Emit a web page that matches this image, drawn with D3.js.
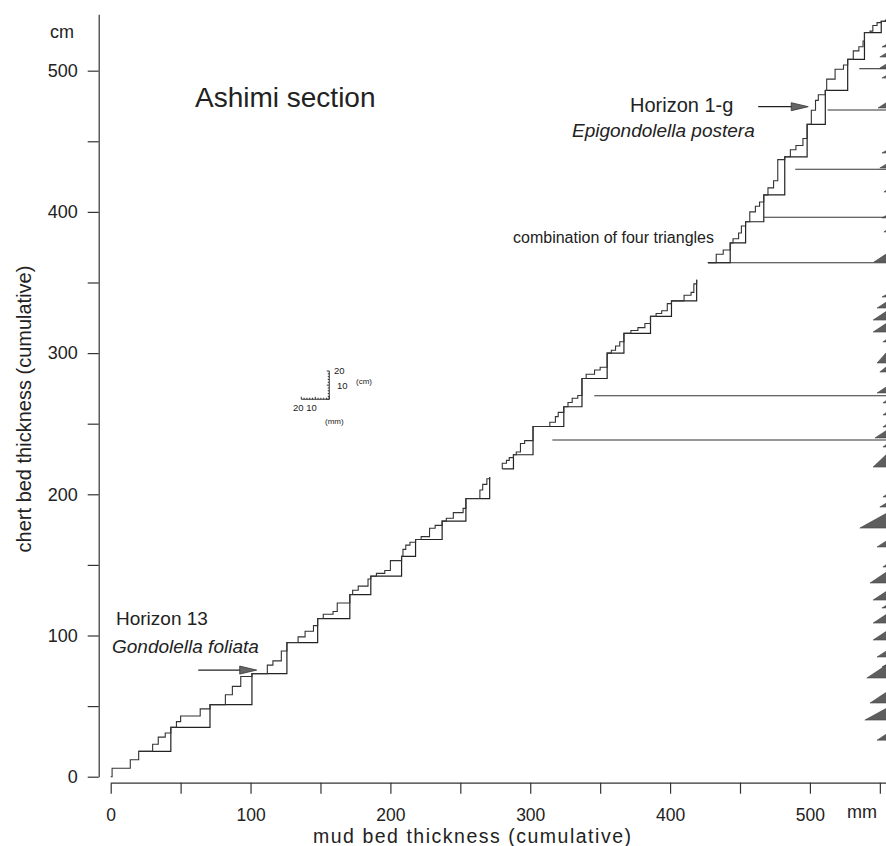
<!DOCTYPE html>
<html>
<head>
<meta charset="utf-8">
<script src="https://cdnjs.cloudflare.com/ajax/libs/d3/7.8.5/d3.min.js"></script>
<style>
body { margin: 0; background: #fff; }
text { font-family: "Liberation Sans", Arial, sans-serif; fill: #222; }
</style>
</head>
<body>
<script>
// cumulative mud (mm) / chert (cm), one list per section piece
var mud1 = [0, 1, 14, 20, 30, 34, 39, 43, 47, 50, 64, 71, 82, 87, 93, 101, 112, 116, 122, 126,
  134, 139, 145, 148, 152, 159, 162, 171, 173, 177, 184, 186, 190, 196, 200, 208, 209, 211, 214, 218,
  222, 228, 232, 237, 240, 245, 252, 254, 264, 266, 269, 271];
var chert1 = [0, 6, 12, 18, 23, 28, 31, 35, 39, 43, 48, 51, 58, 64, 71, 73, 79, 82, 89, 95,
  99, 103, 107, 112, 115, 117, 123, 129, 132, 135, 140, 142, 144, 146, 153, 156, 161, 164, 166, 168,
  170, 176, 178, 181, 183, 187, 190, 197, 203, 207, 211, 212];

var mud2 = [280, 280, 283, 285, 288, 290, 293, 296, 302, 314, 318, 320, 324, 327, 330, 334, 337, 340, 346, 350,
  355, 358, 361, 364, 367, 372, 377, 382, 386, 390, 394, 398, 401, 410, 415, 417, 419];
var chert2 = [218, 222, 224, 226, 228, 230, 236, 238, 248, 251, 255, 258, 262, 265, 268, 270, 282, 285, 288, 290,
  300, 302, 305, 308, 314, 316, 318, 321, 326, 328, 330, 335, 337, 341, 343, 349, 352];

var mud3 = [427, 431, 433, 438, 443, 445, 449, 451, 454, 457, 461, 464, 467, 470, 474, 477, 482, 486, 490, 495,
  498, 501, 504, 506, 511, 512, 518, 524, 527, 531, 535, 538, 539, 543, 545, 548, 551, 554];
var chert3 = [364, 364, 370, 373, 378, 381, 385, 390, 393, 400, 404, 407, 412, 417, 422, 437, 439, 444, 447, 452,
  462, 472, 479, 483, 486, 494, 501, 504, 508, 514, 517, 521, 527, 528, 532, 534, 535, 536];

// first bed of the four-bed combination in each piece
var coarseStart = [3, 0, 0];

// horizontal tie lines to the triangles
var tieMud = [315.8, 345.8, 427.3, 467.1, 489.5, 512.6, 535.3];
var tieChert = [238.4, 269.8, 364, 396.2, 430.2, 472.2, 501.4];

// triangles along the right edge: base (cm), left tip (mm), top at the edge (cm)
var triBase = [516.8, 509.7, 501.9, 494.8, 473.6, 441.7, 431.1, 414.1, 395.7, 385.8,
  364.5, 339.7, 331.9, 323.4, 314.9, 307.9, 293, 286.6, 271.8, 264.7,
  256.2, 247.7, 239.9, 233.5, 219.3, 198.1, 191, 176.1, 162.7, 148.5,
  137.2, 125.1, 119.5, 108.8, 96.8, 84.8, 77.7, 69.9, 56.4, 52.2, 40.1, 25.9];
var triTip = [551.5, 550, 550, 551.5, 548.7, 551.5, 550, 552.9, 551.5, 552.9,
  545.8, 551.5, 548, 545.2, 545.2, 552.2, 548, 550, 548, 552.2,
  552.2, 552.2, 546.5, 552.2, 545.2, 552.2, 550, 535.7, 548, 552.2,
  543, 545.2, 551.5, 545.2, 545.2, 548, 551.5, 540.7, 550, 543, 539.3, 548];
var triTop = [518.8, 512.7, 504.9, 496.8, 477.6, 443.7, 434, 415.6, 397.7, 387.3,
  370.5, 341.7, 336.4, 329.8, 321.3, 309.9, 300.8, 290.6, 276.3, 266.7,
  258.2, 249.7, 245.4, 235.5, 228.5, 200.1, 194, 186.7, 167.2, 150.5,
  145.1, 131.5, 121.5, 115.2, 103.2, 89.3, 79.7, 79.3, 59.4, 60.1, 48.6, 30.4];

var xTicks = [0, 50, 100, 150, 200, 250, 300, 350, 400, 450, 500, 550];
var yTicks = [0, 50, 100, 150, 200, 250, 300, 350, 400, 450, 500];

// conodont horizons: arrow from / to (mud), at chert level
var arrowFrom = [62.6, 463];
var arrowTo = [104.4, 498.8];
var arrowChert = [75.5, 474.5];

var width = 886, height = 846;
var svg = d3.select("body").append("svg")
  .attr("width", width)
  .attr("height", height);

var x = d3.scaleLinear().domain([0, 554.4]).range([110.7, 886]);
var y = d3.scaleLinear().domain([0, 540]).range([776.7, 14.2]);

// axes
var yAxis = d3.axisLeft(y).tickValues(yTicks).tickSize(11).tickSizeOuter(0).tickPadding(10)
  .tickFormat(function(d) { return d % 100 === 0 ? d : ""; });
var gy = svg.append("g").attr("transform", "translate(98.7,0)").call(yAxis);

var xAxis = d3.axisBottom(x).tickValues(xTicks).tickSize(11).tickSizeOuter(0).tickPadding(15)
  .tickFormat(function(d) { return d % 100 === 0 && d <= 500 ? d : ""; });
var gx = svg.append("g").attr("transform", "translate(0,782.7)").call(xAxis);

[gx, gy].forEach(function(g) {
  g.attr("font-family", null).attr("font-size", null);
  g.selectAll("path, line").attr("stroke", "#333").attr("stroke-width", 1.2);
  g.selectAll("text").style("font-size", "18px").attr("fill", "#222");
});
gx.selectAll("text").style("font-size", "17.5px");

svg.append("text").attr("x", 50).attr("y", 38).style("font-size", "18px").text("cm");
svg.append("text").attr("x", 847).attr("y", 818).style("font-size", "18px").text("mm");

svg.append("text")
  .attr("transform", "translate(31,409) rotate(-90)")
  .attr("text-anchor", "middle")
  .style("font-size", "20px")
  .text("chert bed thickness (cumulative)");

svg.append("text")
  .attr("x", 313).attr("y", 843)
  .attr("textLength", 318)
  .attr("lengthAdjust", "spacing")
  .style("font-size", "19.5px")
  .text("mud bed thickness (cumulative)");

svg.append("text").attr("x", 195).attr("y", 107).style("font-size", "28px").text("Ashimi section");

// staircases
var stair = d3.line()
  .x(function(d) { return x(d[0]); })
  .y(function(d) { return y(d[1]); })
  .curve(d3.curveStepAfter);

var pieces = [[mud1, chert1], [mud2, chert2], [mud3, chert3]];

pieces.forEach(function(p, k) {
  var pts = p[0].map(function(m, i) { return [m, p[1][i]]; });
  var coarse = pts.filter(function(d, i) { return i >= coarseStart[k] && (i - coarseStart[k]) % 4 === 0; });
  if (coarse[coarse.length - 1] !== pts[pts.length - 1]) coarse.push(pts[pts.length - 1]);

  svg.append("path").datum(coarse)
    .attr("d", stair)
    .attr("fill", "none")
    .attr("stroke", "#222")
    .attr("stroke-width", 1.2);

  svg.append("path").datum(pts)
    .attr("d", stair)
    .attr("fill", "none")
    .attr("stroke", "#333")
    .attr("stroke-width", 1.1);
});

// tie lines
svg.selectAll(".tie").data(tieMud).enter().append("line")
  .attr("class", "tie")
  .attr("x1", function(d) { return x(d); })
  .attr("x2", x(554.4))
  .attr("y1", function(d, i) { return y(tieChert[i]); })
  .attr("y2", function(d, i) { return y(tieChert[i]); })
  .attr("stroke", "#333")
  .attr("stroke-width", 1.1);

// triangles
svg.selectAll(".tri").data(triBase).enter().append("path")
  .attr("class", "tri")
  .attr("d", function(d, i) {
    return "M" + x(triTip[i]) + "," + y(d) +
      "L" + x(555) + "," + y(d) +
      "L" + x(555) + "," + y(triTop[i]) + "Z";
  })
  .attr("fill", "#5e5e5e")
  .attr("stroke", "#444")
  .attr("stroke-width", 0.6);

// horizon arrows
arrowFrom.forEach(function(m, i) {
  var yy = y(arrowChert[i]);
  var tip = x(arrowTo[i]);
  svg.append("line")
    .attr("x1", x(m)).attr("x2", tip - 16)
    .attr("y1", yy).attr("y2", yy)
    .attr("stroke", "#222").attr("stroke-width", 1.2);
  svg.append("path")
    .attr("d", "M" + tip + "," + yy + "L" + (tip - 17) + "," + (yy - 4) + "L" + (tip - 17) + "," + (yy + 4) + "Z")
    .attr("fill", "#666").attr("stroke", "#333").attr("stroke-width", 0.8);
});

svg.append("text").attr("x", 116).attr("y", 625).style("font-size", "19px").text("Horizon 13");
svg.append("text").attr("x", 112).attr("y", 653).style("font-size", "19px").style("font-style", "italic").text("Gondolella foliata");
svg.append("text").attr("x", 630).attr("y", 112).style("font-size", "20px").text("Horizon 1-g");
svg.append("text").attr("x", 572).attr("y", 137).style("font-size", "19px").style("font-style", "italic").text("Epigondolella postera");
svg.append("text").attr("x", 513).attr("y", 243).style("font-size", "16px").text("combination of four triangles");

// scale inset: 20 mm across, 20 cm up
var sb = svg.append("g").attr("stroke", "#333").attr("stroke-width", 1);
var ox = x(156.3), oy = y(267.3);
var pxMm = x(1) - x(0), pxCm = y(0) - y(1);
sb.append("line").attr("x1", ox - 20 * pxMm).attr("x2", ox).attr("y1", oy).attr("y2", oy);
sb.append("line").attr("x1", ox).attr("x2", ox).attr("y1", oy).attr("y2", oy - 20 * pxCm);
d3.range(0, 21, 2).forEach(function(t) {
  sb.append("line").attr("x1", ox - t * pxMm).attr("x2", ox - t * pxMm).attr("y1", oy).attr("y2", oy - (t % 10 === 0 ? 2.5 : 1.5));
  sb.append("line").attr("x1", ox).attr("x2", ox - (t % 10 === 0 ? 2.5 : 1.5)).attr("y1", oy - t * pxCm).attr("y2", oy - t * pxCm);
});
svg.append("text").attr("x", 334).attr("y", 374).style("font-size", "9.5px").text("20");
svg.append("text").attr("x", 337).attr("y", 389).style("font-size", "9.5px").text("10");
svg.append("text").attr("x", 356).attr("y", 384).style("font-size", "8px").text("(cm)");
svg.append("text").attr("x", 293).attr("y", 411).style("font-size", "9.5px").text("20 10");
svg.append("text").attr("x", 325).attr("y", 424).style("font-size", "8px").text("(mm)");
</script>
</body>
</html>
